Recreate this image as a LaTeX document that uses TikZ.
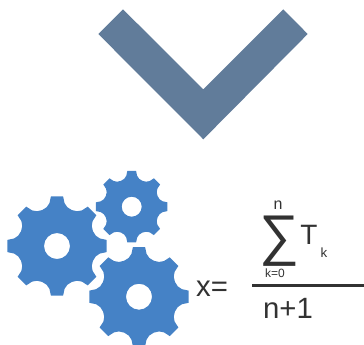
\documentclass[tikz,border=0pt]{standalone}
\usepackage{fontspec}
\setmainfont{Liberation Sans}
\definecolor{chevronblue}{RGB}{97,124,154}
\definecolor{gearblue}{RGB}{69,130,198}
\definecolor{formulagrey}{RGB}{50,50,50}
\tikzset{every picture/.style={line width=0.75pt}}
\tikzset{
  formula/.style={inner sep=0.75pt,text=formulagrey},
  gear/.style={fill=gearblue,even odd rule}
}
\begin{document}
\begin{tikzpicture}[x=0.75pt,y=0.75pt,yscale=-1,xscale=1]
\useasboundingbox (0,0) rectangle (364,344);

%Shape: Chevron
\fill [chevronblue] (98.3,34) -- (123,9.3) -- (203.3,89.3) -- (283.3,9.3) -- (307.7,34) -- (203.3,139.3) -- cycle ;

%Shape: Gears
\foreach \cx/\cy/\rad/\hole in {57/246/50/13, 131.7/206.7/36/10, 139/296.7/50/13}
{
  \fill [gear,shift={(\cx,\cy)}] (7:\rad)
    \foreach \a in {0,45,...,315}
    { -- ({\a+10}:{.87*\rad})
      .. controls ({\a+15}:{.76*\rad}) and ({\a+30}:{.76*\rad}) .. ({\a+35}:{.87*\rad})
      -- ({\a+38}:\rad) -- ({\a+52}:\rad) }
    -- cycle (0,0) circle (\hole) ;
}

% Text Node
\node (xeq) [formula,font=\fontsize{22}{22}\selectfont] at (212,289) {x=};
% Text Node
\node (sigma) [formula,font=\fontsize{42}{42}\selectfont] at (279,241) {∑};
% Text Node
\node (upper) [formula,font=\fontsize{12}{12}\selectfont] at (278,205) {n};
% Text Node
\node (lower) [formula,font=\fontsize{9}{9}\selectfont] at (275,273) {k=0};
% Text Node
\node (term) [formula,font=\fontsize{21}{21}\selectfont] at (309,235) {T};
% Text Node
\node (index) [formula,font=\fontsize{10}{10}\selectfont] at (324,253) {k};
% Text Node
\node (denom) [formula,font=\fontsize{22}{22}\selectfont] at (288,308) {n+1};

%Straight Lines
\coordinate (barstart) at (252,285.7);
\coordinate (barend) at (364,285.7);
\draw [formulagrey,line width=1.9pt] (barstart) -- (barend) ;
\end{tikzpicture}
\end{document}
